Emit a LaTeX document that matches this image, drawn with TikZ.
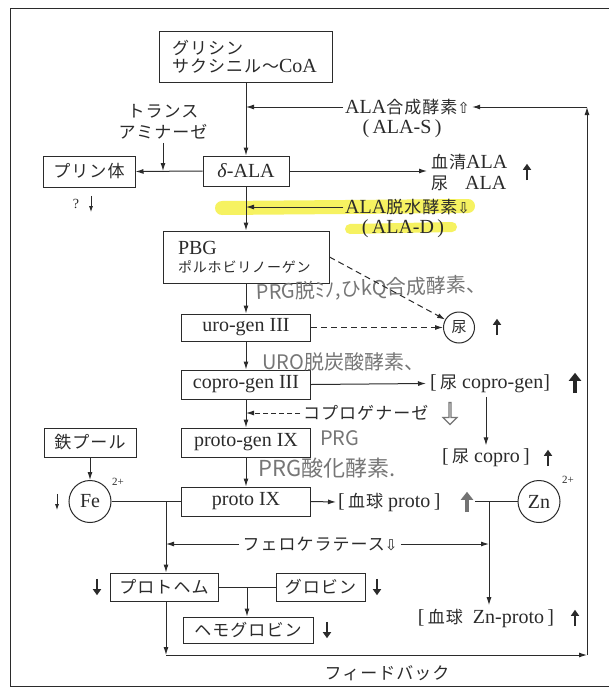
\documentclass[tikz,border=0pt]{standalone}
\usepackage{fontspec}
\setmainfont{Liberation Serif}
\newfontfamily\jp[LetterSpace=6]{Noto Sans CJK JP}
\newfontfamily\jph{Noto Sans CJK JP}
\newfontfamily\dv{DejaVu Sans}
\usetikzlibrary{arrows.meta,calc,shapes.arrows}
\definecolor{ink}{HTML}{2B2B2B}
\definecolor{pencil}{HTML}{767676}
\definecolor{hilite}{HTML}{F4EF3A}
\newcommand\jtext[1]{{\jp\fontsize{17}{21}\selectfont #1}}
\newcommand\arrsym[1]{{\dv\fontsize{15}{18}\selectfont #1}}
\begin{document}
\begin{tikzpicture}[x=1pt,y=-1pt,
  every node/.style={text=ink,font=\fontsize{20}{23}\selectfont},
  box/.style={draw=ink,line width=1pt,inner sep=0pt,align=center},
  jt/.style={font=\jp\fontsize{17}{21}\selectfont},
  lnk/.style={draw=ink,line width=1pt},
  arr/.style={lnk,-{Latex[length=8pt,width=5pt]}},
  darr/.style={arr,dash pattern=on 6pt off 4pt},
  sym/.style={inner sep=0pt,minimum width=2pt,minimum height=16pt},
  fatar/.style={draw=ink,line width=2pt,-{Triangle[length=6pt,width=8pt]}},
  thinar/.style={draw=ink,line width=1pt,-{Latex[length=6pt,width=4pt]}},
  markdark/.style={draw=black!85,line width=3.5pt,-{Triangle[length=8pt,width=12pt]}},
  markgray/.style={draw=black!55,line width=3.5pt,-{Triangle[length=8pt,width=12pt]}},
  hw/.style={text=pencil,font=\jph\fontsize{20}{22}\selectfont,inner sep=0pt,anchor=west},
  tight/.style={inner sep=0pt},
]
\useasboundingbox (0,0) rectangle (609,696);
\fill[white] (0,0) rectangle (609,696);
\draw[lnk] (609,8) -- (10,8) -- (10,686) -- (609,686);
% highlighter
\draw[hilite,line width=14pt,line cap=round,opacity=.8] (222,208) -- (468,206);
\draw[hilite,line width=10pt,line cap=round,opacity=.8] (350,229) -- (452,227);

% boxes
\node[box,minimum width=173,minimum height=51,text width=148,align=left,font=\jp\fontsize{17}{18}\selectfont] (gly) at (246,56.5) {グリシン\\サクシニル〜{\rmfamily\fontsize{20}{18}\selectfont CoA}};
\node[box,minimum width=86,minimum height=30] (ala) at (246,171) {\textit{δ}-ALA};
\node[box,jt,minimum width=92,minimum height=31] (pur) at (89,171.5) {プリン体};
\node[box,minimum width=166,minimum height=52,text width=136,align=left,font=\fontsize{20}{18}\selectfont] (pbg) at (246,257) {PBG\\{\jp\fontsize{14}{18}\selectfont ポルホビリノーゲン}};
\node[box,minimum width=129,minimum height=27] (uro) at (246,327.5) {uro-gen III};
\node[box,minimum width=129,minimum height=29] (copro) at (246,384.5) {copro-gen III};
\node[box,minimum width=129,minimum height=29] (pgen) at (246,442.5) {proto-gen IX};
\node[box,minimum width=129,minimum height=29] (p9) at (246,501.5) {proto IX};
\node[box,jt,minimum width=92,minimum height=29] (iron) at (90,442.5) {鉄プール};
\node[circle,draw=ink,line width=1pt,minimum size=42,inner sep=0pt] (fe) at (90,501.5) {Fe};
\node[circle,draw=ink,line width=1pt,minimum size=42,inner sep=0pt] (zn) at (539,501.5) {Zn};
\node[font=\fontsize{11}{12}\selectfont] (fesup) at (118,482) {2+};
\node[font=\fontsize{11}{12}\selectfont] (znsup) at (568,480) {2+};
\node[circle,draw=ink,line width=1pt,minimum size=31,inner sep=0pt,font=\jp\fontsize{15}{16}\selectfont] (nyo) at (459,327.5) {尿};
\node[box,jt,minimum width=108,minimum height=28] (ph) at (164,587) {プロトヘム};
\node[box,jt,minimum width=89,minimum height=28] (gb) at (320.5,587) {グロビン};
\node[box,jt,minimum width=130,minimum height=26] (hb) at (248,630) {ヘモグロビン};

% labels
\node[anchor=west,inner sep=2pt] (alas) at (343,107) {ALA\jtext{合成酵素}\arrsym{⇧}};
\node[tight] (alasb) at (402,129) {(\,ALA-S\,)};
\node[anchor=west,inner sep=2pt] (alad) at (343,207) {ALA\jtext{脱水酵素}\arrsym{⇩}};
\node[tight] (aladb) at (403,229) {(\,ALA-D\,)};
\node[jt,align=center] (trans) at (163,122) {トランス\\アミナーゼ};
\node[anchor=west,align=left,inner sep=4pt,font=\fontsize{20}{21}\selectfont] (serum) at (427,172) {\jtext{血清}ALA\\\jtext{尿\hphantom{清}}ALA};
\node[font=\fontsize{14}{16}\selectfont] (qm) at (76,204) {?};
\node[anchor=west,inner sep=4pt] (ucg) at (426,383.5) {[\,\jtext{尿}\ copro-gen]};
\node (uc) at (486,458) {[\,\jtext{尿}\ copro\,]};
\node[jt,anchor=west,inner sep=3pt] (cpg) at (300,413) {コプロゲナーゼ};
\node[anchor=west,inner sep=2pt] (bp) at (336,502) {[\,\jtext{血球}\ proto\,]};
\node (znp) at (486,618) {[\,\jtext{血球}\ \ Zn-proto\,]};
\node[jt] (fc) at (320,544) {フェロケラテース\arrsym{⇩}};
\node[jt] (fbt) at (387,673) {フィードバック};

% handwriting
\node[hw,rotate=2] (hw1) at (256,293) {PRG脱ﾐﾉ,ひkQ合成酵素、};
\node[hw] (hw2) at (262,362) {URO脱炭酸酵素、};
\node[hw] (hw3) at (320,438) {PRG};
\node[hw,font=\jph\fontsize{22}{24}\selectfont] (hw4) at (258,468) {PRG酸化酵素.};
\node[single arrow,draw=pencil,line width=1.2pt,shape border rotate=270,minimum height=22pt,minimum width=14pt,single arrow head extend=4pt,inner sep=0pt] (hollow) at (450,413) {};

% coordinates
\coordinate (fbTR) at (587,107);
\coordinate (fbBR) at (587,655);
\coordinate (fbBL) at (166,655);
\coordinate (br1) at (166,501.5);
\coordinate (znL) at (475,501.5);
\coordinate (br2) at (489,501.5);
\coordinate (br3) at (247,587);

% main pathway
\draw[arr] (gly.south) -- (ala.north);
\draw[arr] (alas.west) -- (alas.west -| gly.south);
\draw[arr] (fbTR) -- (alas.east);
\draw[arr] (fbBR) -- (fbTR);
\draw[arr] (fbBL) -- (fbBR);
\draw[arr] (fbBL |- ph.south) -- (fbBL);
\draw[arr] (ala.west) -- (pur.east);
\draw[arr] (trans.south) -- (trans.south |- ala.west);
\draw[arr] (ala.east) -- (serum.west |- ala.east);
\draw[arr] (ala.south) -- (pbg.north);
\draw[arr] (alad.west) -- (alad.west -| ala.south);
\draw[arr] (pbg.south) -- (uro.north);
\draw[darr] (pbg.east) -- (nyo.150);
\draw[darr] (uro.east) -- (nyo.west);
\draw[arr] (uro.south) -- (copro.north);
\draw[arr] (copro.east) -- (ucg.west);
\draw[arr] (ucg.south -| uc.north) -- (uc.north);
\draw[arr] (copro.south) -- (pgen.north);
\draw[darr,dash pattern=on 5pt off 3pt] (cpg.west) -- (cpg.west -| copro.south);
\draw[arr] (pgen.south) -- (p9.north);
\draw[arr] (iron.south) -- (fe.north);
\draw[lnk] (fe.east) -- (p9.west);
\draw[arr] (br1) -- (ph.north -| br1);
\draw[arr] (p9.east) -- (bp.west);
\draw[lnk] (zn.west) -- (znL);
\draw[arr] (br2) -- (znp.north -| br2);
\draw[arr] (fc.west) -- (fc.west -| br1);
\draw[arr] (fc.east) -- (fc.east -| br2);
\draw[lnk] (ph.east) -- (gb.west);
\draw[arr] (br3) -- (hb.north -| br3);

% small arrow marks
\node[sym] (m1) at (527,172) {};
\node[sym] (m2) at (497,327) {};
\node[sym] (m3) at (548,458) {};
\node[sym] (m4) at (575,618) {};
\node[sym] (m5) at (97,587) {};
\node[sym] (m6) at (377,587) {};
\node[sym] (m7) at (327,630) {};
\node[sym] (m8) at (57,502) {};
\node[sym] (m9) at (91,204) {};
\node[sym,minimum height=20pt] (m10) at (575,383) {};
\node[sym,minimum height=20pt] (m11) at (467,502) {};
\draw[fatar] (m1.south) -- (m1.north);
\draw[fatar] (m2.south) -- (m2.north);
\draw[fatar] (m3.south) -- (m3.north);
\draw[fatar] (m4.south) -- (m4.north);
\draw[fatar] (m5.north) -- (m5.south);
\draw[fatar] (m6.north) -- (m6.south);
\draw[fatar] (m7.north) -- (m7.south);
\draw[thinar] (m8.north) -- (m8.south);
\draw[thinar] (m9.north) -- (m9.south);
\draw[markdark] (m10.south) -- (m10.north);
\draw[markgray] (m11.south) -- (m11.north);
\end{tikzpicture}
\end{document}
